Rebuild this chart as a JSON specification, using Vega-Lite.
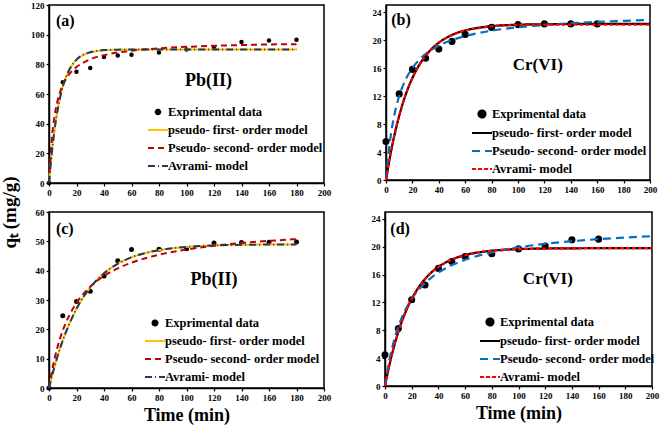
{
"$schema":"https://vega.github.io/schema/vega-lite/v6.json",
"padding":{"left":0,"top":0,"right":0,"bottom":0},
"spacing":9,
"title":{"text":"qₜ (mg/g)","orient":"left","anchor":"middle","font":"Liberation Serif","fontSize":19,"fontWeight":"bold","color":"black","offset":10},
"resolve":{"scale":{"color":"independent","shape":"independent","strokeDash":"independent"},"legend":{"color":"independent","shape":"independent","strokeDash":"independent"}},
"config":{
 "font":"Liberation Serif",
 "view":{"stroke":"black","strokeWidth":1.5},
 "text":{"font":"Liberation Serif"},
 "axis":{"grid":false,"labelOverlap":false,"labelSeparation":0,"labelBound":false,"labelFlush":false,"domainColor":"black","domainWidth":1.5,"tickColor":"black","tickSize":3,"tickWidth":1.2,"labelFont":"Liberation Serif","labelFontWeight":"bold","labelFontSize":9,"labelColor":"black","labelPadding":2,"titleFont":"Liberation Serif","titleFontWeight":"bold","titleFontSize":18,"titleColor":"black"},
 "legend":{"labelFont":"Liberation Serif","labelFontWeight":"bold","labelFontSize":12.5,"labelColor":"black","title":null,"orient":"none","rowPadding":0,"labelOffset":-1,"symbolStrokeWidth":2,"symbolSize":400}
},
"vconcat":[
{"hconcat":[
{"width":275,"height":178,
 "data":{"values":[
 {"t":0,"q":0,"s":"Exprimental data"},{"t":10,"q":68,"s":"Exprimental data"},{"t":20,"q":75,"s":"Exprimental data"},{"t":30,"q":77.5,"s":"Exprimental data"},{"t":40,"q":85,"s":"Exprimental data"},{"t":50,"q":86,"s":"Exprimental data"},{"t":60,"q":86.5,"s":"Exprimental data"},{"t":80,"q":88,"s":"Exprimental data"},{"t":100,"q":90,"s":"Exprimental data"},{"t":120,"q":91,"s":"Exprimental data"},{"t":140,"q":95,"s":"Exprimental data"},{"t":160,"q":96,"s":"Exprimental data"},{"t":180,"q":96.5,"s":"Exprimental data"},
 {"t":0,"q":0,"s":"pseudo- first- order model"},{"t":2,"q":20.3,"s":"pseudo- first- order model"},{"t":4,"q":36.0,"s":"pseudo- first- order model"},{"t":6,"q":48.1,"s":"pseudo- first- order model"},{"t":8,"q":57.5,"s":"pseudo- first- order model"},{"t":10,"q":64.9,"s":"pseudo- first- order model"},{"t":12,"q":70.5,"s":"pseudo- first- order model"},{"t":15,"q":76.7,"s":"pseudo- first- order model"},{"t":20,"q":83.0,"s":"pseudo- first- order model"},{"t":25,"q":86.3,"s":"pseudo- first- order model"},{"t":30,"q":88.0,"s":"pseudo- first- order model"},{"t":35,"q":89.0,"s":"pseudo- first- order model"},{"t":40,"q":89.5,"s":"pseudo- first- order model"},{"t":50,"q":89.85,"s":"pseudo- first- order model"},{"t":60,"q":89.96,"s":"pseudo- first- order model"},{"t":70,"q":90,"s":"pseudo- first- order model"},{"t":80,"q":90,"s":"pseudo- first- order model"},{"t":100,"q":90,"s":"pseudo- first- order model"},{"t":120,"q":90,"s":"pseudo- first- order model"},{"t":140,"q":90,"s":"pseudo- first- order model"},{"t":160,"q":90,"s":"pseudo- first- order model"},{"t":180,"q":90,"s":"pseudo- first- order model"},
 {"t":0,"q":0,"s":"Pseudo- second- order model"},{"t":2,"q":29.3,"s":"Pseudo- second- order model"},{"t":4,"q":44.9,"s":"Pseudo- second- order model"},{"t":6,"q":54.6,"s":"Pseudo- second- order model"},{"t":8,"q":61.2,"s":"Pseudo- second- order model"},{"t":10,"q":66.0,"s":"Pseudo- second- order model"},{"t":12,"q":69.6,"s":"Pseudo- second- order model"},{"t":15,"q":73.7,"s":"Pseudo- second- order model"},{"t":20,"q":78.2,"s":"Pseudo- second- order model"},{"t":25,"q":81.2,"s":"Pseudo- second- order model"},{"t":30,"q":83.4,"s":"Pseudo- second- order model"},{"t":35,"q":85.0,"s":"Pseudo- second- order model"},{"t":40,"q":86.2,"s":"Pseudo- second- order model"},{"t":50,"q":88.0,"s":"Pseudo- second- order model"},{"t":60,"q":89.2,"s":"Pseudo- second- order model"},{"t":70,"q":90.1,"s":"Pseudo- second- order model"},{"t":80,"q":90.8,"s":"Pseudo- second- order model"},{"t":100,"q":91.8,"s":"Pseudo- second- order model"},{"t":120,"q":92.5,"s":"Pseudo- second- order model"},{"t":140,"q":93.0,"s":"Pseudo- second- order model"},{"t":160,"q":93.4,"s":"Pseudo- second- order model"},{"t":180,"q":93.6,"s":"Pseudo- second- order model"},
 {"t":0,"q":0,"s":"Avrami- model"},{"t":2,"q":19.8,"s":"Avrami- model"},{"t":4,"q":35.6,"s":"Avrami- model"},{"t":6,"q":47.8,"s":"Avrami- model"},{"t":8,"q":57.3,"s":"Avrami- model"},{"t":10,"q":64.8,"s":"Avrami- model"},{"t":12,"q":70.5,"s":"Avrami- model"},{"t":15,"q":76.8,"s":"Avrami- model"},{"t":20,"q":83.2,"s":"Avrami- model"},{"t":25,"q":86.5,"s":"Avrami- model"},{"t":30,"q":88.2,"s":"Avrami- model"},{"t":35,"q":89.1,"s":"Avrami- model"},{"t":40,"q":89.6,"s":"Avrami- model"},{"t":50,"q":89.9,"s":"Avrami- model"},{"t":60,"q":90,"s":"Avrami- model"},{"t":70,"q":90,"s":"Avrami- model"},{"t":80,"q":90,"s":"Avrami- model"},{"t":100,"q":90,"s":"Avrami- model"},{"t":120,"q":90,"s":"Avrami- model"},{"t":140,"q":90,"s":"Avrami- model"},{"t":160,"q":90,"s":"Avrami- model"},{"t":180,"q":90,"s":"Avrami- model"}
 ]},
 "layer":[
  {"transform":[{"filter":"datum.s === 'Exprimental data'"}],
   "mark":{"type":"point","filled":true,"size":20,"opacity":1},
   "encoding":{
    "x":{"field":"t","type":"quantitative","scale":{"domain":[0,200],"nice":false},"axis":{"values":[0,20,40,60,80,100,120,140,160,180,200],"labelOverlap":false,"title":null}},
    "y":{"field":"q","type":"quantitative","scale":{"domain":[0,120],"nice":false},"axis":{"values":[0,20,40,60,80,100,120],"labelOverlap":false,"title":null}},
    "color":{"field":"s","type":"nominal","scale":{"domain":["Exprimental data","pseudo- first- order model","Pseudo- second- order model","Avrami- model"],"range":["black","#FFC000","#C00000","#1F3864"]},
      "legend":{"legendX":98,"legendY":96,"labelFont":"Liberation Serif","encode":{"symbols":{"update":{"size":{"signal":"datum.value === 'Exprimental data' ? 20 : 400"},"fill":{"signal":"datum.value === 'Exprimental data' ? 'black' : 'transparent'"}}}}}},
    "shape":{"field":"s","type":"nominal","scale":{"domain":["Exprimental data","pseudo- first- order model","Pseudo- second- order model","Avrami- model"],"range":["circle","stroke","stroke","stroke"]},
      "legend":{"legendX":98,"legendY":96,"labelFont":"Liberation Serif","encode":{"symbols":{"update":{"size":{"signal":"datum.value === 'Exprimental data' ? 20 : 400"},"fill":{"signal":"datum.value === 'Exprimental data' ? 'black' : 'transparent'"}}}}}}
   }},
  {"transform":[{"filter":"datum.s !== 'Exprimental data'"}],
   "mark":{"type":"line","strokeWidth":2,"interpolate":"monotone"},
   "encoding":{
    "x":{"field":"t","type":"quantitative","axis":{"values":[0,20,40,60,80,100,120,140,160,180,200],"labelOverlap":false,"title":null}},
    "y":{"field":"q","type":"quantitative","axis":{"values":[0,20,40,60,80,100,120],"labelOverlap":false,"title":null}},
    "color":{"field":"s","type":"nominal"},
    "strokeDash":{"field":"s","type":"nominal","scale":{"domain":["Exprimental data","pseudo- first- order model","Pseudo- second- order model","Avrami- model"],"range":[[1,0],[1,0],[6,4],[7,3,1,3]]},
      "legend":{"legendX":98,"legendY":96,"labelFont":"Liberation Serif","encode":{"symbols":{"update":{"size":{"signal":"datum.value === 'Exprimental data' ? 20 : 400"},"fill":{"signal":"datum.value === 'Exprimental data' ? 'black' : 'transparent'"}}}}}}
   }},
  {"data":{"values":[{}]},"mark":{"type":"text","font":"Liberation Serif","fontSize":16,"fontWeight":"bold","align":"left","baseline":"middle"},
   "encoding":{"x":{"datum":5,"axis":{"values":[0,20,40,60,80,100,120,140,160,180,200],"labelOverlap":false,"title":null}},"y":{"datum":109,"axis":{"values":[0,20,40,60,80,100,120],"labelOverlap":false,"title":null}},"text":{"value":"(a)"}}},
  {"data":{"values":[{}]},"mark":{"type":"text","font":"Liberation Serif","fontSize":18,"fontWeight":"bold","align":"center","baseline":"middle"},
   "encoding":{"x":{"datum":116,"axis":{"values":[0,20,40,60,80,100,120,140,160,180,200],"labelOverlap":false,"title":null}},"y":{"datum":69,"axis":{"values":[0,20,40,60,80,100,120],"labelOverlap":false,"title":null}},"text":{"value":"Pb(II)"}}}
 ]},
{"width":264,"height":175,
 "data":{"values":[
 {"t":0,"q":5.5,"s":"Exprimental data"},{"t":10,"q":12.3,"s":"Exprimental data"},{"t":20,"q":15.8,"s":"Exprimental data"},{"t":30,"q":17.4,"s":"Exprimental data"},{"t":40,"q":18.7,"s":"Exprimental data"},{"t":50,"q":19.8,"s":"Exprimental data"},{"t":60,"q":20.8,"s":"Exprimental data"},{"t":80,"q":21.8,"s":"Exprimental data"},{"t":100,"q":22.2,"s":"Exprimental data"},{"t":120,"q":22.3,"s":"Exprimental data"},{"t":140,"q":22.3,"s":"Exprimental data"},{"t":160,"q":22.3,"s":"Exprimental data"},
 {"t":0,"q":0,"s":"pseudo- first- order model"},{"t":2,"q":2.24,"s":"pseudo- first- order model"},{"t":4,"q":4.26,"s":"pseudo- first- order model"},{"t":6,"q":6.07,"s":"pseudo- first- order model"},{"t":8,"q":7.71,"s":"pseudo- first- order model"},{"t":10,"q":9.17,"s":"pseudo- first- order model"},{"t":12,"q":10.49,"s":"pseudo- first- order model"},{"t":15,"q":12.23,"s":"pseudo- first- order model"},{"t":20,"q":14.57,"s":"pseudo- first- order model"},{"t":25,"q":16.37,"s":"pseudo- first- order model"},{"t":30,"q":17.75,"s":"pseudo- first- order model"},{"t":35,"q":18.81,"s":"pseudo- first- order model"},{"t":40,"q":19.62,"s":"pseudo- first- order model"},{"t":50,"q":20.72,"s":"pseudo- first- order model"},{"t":60,"q":21.37,"s":"pseudo- first- order model"},{"t":70,"q":21.75,"s":"pseudo- first- order model"},{"t":80,"q":21.98,"s":"pseudo- first- order model"},{"t":100,"q":22.19,"s":"pseudo- first- order model"},{"t":120,"q":22.26,"s":"pseudo- first- order model"},{"t":140,"q":22.29,"s":"pseudo- first- order model"},{"t":160,"q":22.3,"s":"pseudo- first- order model"},{"t":180,"q":22.3,"s":"pseudo- first- order model"},{"t":200,"q":22.3,"s":"pseudo- first- order model"},
 {"t":0,"q":0,"s":"Pseudo- second- order model"},{"t":2,"q":4.0,"s":"Pseudo- second- order model"},{"t":4,"q":6.86,"s":"Pseudo- second- order model"},{"t":6,"q":9.0,"s":"Pseudo- second- order model"},{"t":8,"q":10.67,"s":"Pseudo- second- order model"},{"t":10,"q":12.0,"s":"Pseudo- second- order model"},{"t":12,"q":13.09,"s":"Pseudo- second- order model"},{"t":15,"q":14.4,"s":"Pseudo- second- order model"},{"t":20,"q":16.0,"s":"Pseudo- second- order model"},{"t":25,"q":17.14,"s":"Pseudo- second- order model"},{"t":30,"q":18.0,"s":"Pseudo- second- order model"},{"t":35,"q":18.67,"s":"Pseudo- second- order model"},{"t":40,"q":19.2,"s":"Pseudo- second- order model"},{"t":50,"q":20.0,"s":"Pseudo- second- order model"},{"t":60,"q":20.57,"s":"Pseudo- second- order model"},{"t":70,"q":21.0,"s":"Pseudo- second- order model"},{"t":80,"q":21.33,"s":"Pseudo- second- order model"},{"t":100,"q":21.82,"s":"Pseudo- second- order model"},{"t":120,"q":22.15,"s":"Pseudo- second- order model"},{"t":140,"q":22.4,"s":"Pseudo- second- order model"},{"t":160,"q":22.59,"s":"Pseudo- second- order model"},{"t":180,"q":22.74,"s":"Pseudo- second- order model"},{"t":200,"q":22.86,"s":"Pseudo- second- order model"},
 {"t":0,"q":0,"s":"Avrami- model"},{"t":2,"q":2.3,"s":"Avrami- model"},{"t":4,"q":4.3,"s":"Avrami- model"},{"t":6,"q":6.1,"s":"Avrami- model"},{"t":8,"q":7.75,"s":"Avrami- model"},{"t":10,"q":9.2,"s":"Avrami- model"},{"t":12,"q":10.5,"s":"Avrami- model"},{"t":15,"q":12.25,"s":"Avrami- model"},{"t":20,"q":14.6,"s":"Avrami- model"},{"t":25,"q":16.4,"s":"Avrami- model"},{"t":30,"q":17.75,"s":"Avrami- model"},{"t":35,"q":18.8,"s":"Avrami- model"},{"t":40,"q":19.6,"s":"Avrami- model"},{"t":50,"q":20.7,"s":"Avrami- model"},{"t":60,"q":21.35,"s":"Avrami- model"},{"t":70,"q":21.7,"s":"Avrami- model"},{"t":80,"q":21.95,"s":"Avrami- model"},{"t":100,"q":22.15,"s":"Avrami- model"},{"t":120,"q":22.2,"s":"Avrami- model"},{"t":140,"q":22.2,"s":"Avrami- model"},{"t":160,"q":22.2,"s":"Avrami- model"},{"t":180,"q":22.2,"s":"Avrami- model"},{"t":200,"q":22.2,"s":"Avrami- model"}
 ]},
 "layer":[
  {"transform":[{"filter":"datum.s === 'Exprimental data'"}],
   "mark":{"type":"point","filled":true,"size":50,"opacity":1},
   "encoding":{
    "x":{"field":"t","type":"quantitative","scale":{"domain":[0,200],"nice":false},"axis":{"values":[0,20,40,60,80,100,120,140,160,180,200],"labelOverlap":false,"title":null}},
    "y":{"field":"q","type":"quantitative","scale":{"domain":[0,25],"nice":false},"axis":{"values":[0,4,8,12,16,20,24],"labelOverlap":false,"title":null}},
    "color":{"field":"s","type":"nominal","scale":{"domain":["Exprimental data","pseudo- first- order model","Pseudo- second- order model","Avrami- model"],"range":["black","black","#0070C0","#FF0000"]},
      "legend":{"legendX":85,"legendY":98,"labelFont":"Liberation Serif","encode":{"symbols":{"update":{"size":{"signal":"datum.value === 'Exprimental data' ? 50 : 400"},"fill":{"signal":"datum.value === 'Exprimental data' ? 'black' : 'transparent'"}}}}}},
    "shape":{"field":"s","type":"nominal","scale":{"domain":["Exprimental data","pseudo- first- order model","Pseudo- second- order model","Avrami- model"],"range":["circle","stroke","stroke","stroke"]},
      "legend":{"legendX":85,"legendY":98,"labelFont":"Liberation Serif","encode":{"symbols":{"update":{"size":{"signal":"datum.value === 'Exprimental data' ? 50 : 400"},"fill":{"signal":"datum.value === 'Exprimental data' ? 'black' : 'transparent'"}}}}}}
   }},
  {"transform":[{"filter":"datum.s !== 'Exprimental data'"}],
   "mark":{"type":"line","strokeWidth":2.2,"interpolate":"monotone"},
   "encoding":{
    "x":{"field":"t","type":"quantitative","axis":{"values":[0,20,40,60,80,100,120,140,160,180,200],"labelOverlap":false,"title":null}},
    "y":{"field":"q","type":"quantitative","axis":{"values":[0,4,8,12,16,20,24],"labelOverlap":false,"title":null}},
    "color":{"field":"s","type":"nominal"},
    "strokeDash":{"field":"s","type":"nominal","scale":{"domain":["Exprimental data","pseudo- first- order model","Pseudo- second- order model","Avrami- model"],"range":[[1,0],[1,0],[8,5],[4,2]]},
      "legend":{"legendX":85,"legendY":98,"labelFont":"Liberation Serif","encode":{"symbols":{"update":{"size":{"signal":"datum.value === 'Exprimental data' ? 50 : 400"},"fill":{"signal":"datum.value === 'Exprimental data' ? 'black' : 'transparent'"}}}}}}
   }},
  {"data":{"values":[{}]},"mark":{"type":"text","font":"Liberation Serif","fontSize":16,"fontWeight":"bold","align":"left","baseline":"middle"},
   "encoding":{"x":{"datum":4,"axis":{"values":[0,20,40,60,80,100,120,140,160,180,200],"labelOverlap":false,"title":null}},"y":{"datum":22.9,"axis":{"values":[0,4,8,12,16,20,24],"labelOverlap":false,"title":null}},"text":{"value":"(b)"}}},
  {"data":{"values":[{}]},"mark":{"type":"text","font":"Liberation Serif","fontSize":17,"fontWeight":"bold","align":"center","baseline":"middle"},
   "encoding":{"x":{"datum":115,"axis":{"values":[0,20,40,60,80,100,120,140,160,180,200],"labelOverlap":false,"title":null}},"y":{"datum":16.4,"axis":{"values":[0,4,8,12,16,20,24],"labelOverlap":false,"title":null}},"text":{"value":"Cr(VI)"}}}
 ]}
],"spacing":62,"bounds":"flush",
"resolve":{"scale":{"color":"independent","shape":"independent","strokeDash":"independent"},"legend":{"color":"independent","shape":"independent","strokeDash":"independent"}}},
{"hconcat":[
{"width":275,"height":176,
 "data":{"values":[
 {"t":0,"q":0,"s":"Exprimental data"},{"t":10,"q":24.6,"s":"Exprimental data"},{"t":20,"q":29.5,"s":"Exprimental data"},{"t":30,"q":33,"s":"Exprimental data"},{"t":40,"q":38.2,"s":"Exprimental data"},{"t":50,"q":43.4,"s":"Exprimental data"},{"t":60,"q":47.2,"s":"Exprimental data"},{"t":80,"q":47.3,"s":"Exprimental data"},{"t":100,"q":47.5,"s":"Exprimental data"},{"t":120,"q":49.4,"s":"Exprimental data"},{"t":140,"q":49.6,"s":"Exprimental data"},{"t":160,"q":49.7,"s":"Exprimental data"},{"t":180,"q":49.8,"s":"Exprimental data"},
 {"t":0,"q":0,"s":"pseudo- first- order model"},{"t":2,"q":3.77,"s":"pseudo- first- order model"},{"t":4,"q":7.25,"s":"pseudo- first- order model"},{"t":6,"q":10.46,"s":"pseudo- first- order model"},{"t":8,"q":13.42,"s":"pseudo- first- order model"},{"t":10,"q":16.15,"s":"pseudo- first- order model"},{"t":12,"q":18.68,"s":"pseudo- first- order model"},{"t":15,"q":22.11,"s":"pseudo- first- order model"},{"t":20,"q":26.98,"s":"pseudo- first- order model"},{"t":25,"q":30.97,"s":"pseudo- first- order model"},{"t":30,"q":34.24,"s":"pseudo- first- order model"},{"t":35,"q":36.92,"s":"pseudo- first- order model"},{"t":40,"q":39.11,"s":"pseudo- first- order model"},{"t":50,"q":42.37,"s":"pseudo- first- order model"},{"t":60,"q":44.56,"s":"pseudo- first- order model"},{"t":70,"q":46.02,"s":"pseudo- first- order model"},{"t":80,"q":47.0,"s":"pseudo- first- order model"},{"t":100,"q":48.1,"s":"pseudo- first- order model"},{"t":120,"q":48.6,"s":"pseudo- first- order model"},{"t":140,"q":48.82,"s":"pseudo- first- order model"},{"t":160,"q":48.92,"s":"pseudo- first- order model"},{"t":180,"q":48.96,"s":"pseudo- first- order model"},
 {"t":0,"q":0,"s":"Pseudo- second- order model"},{"t":2,"q":5.43,"s":"Pseudo- second- order model"},{"t":4,"q":9.9,"s":"Pseudo- second- order model"},{"t":6,"q":13.65,"s":"Pseudo- second- order model"},{"t":8,"q":16.83,"s":"Pseudo- second- order model"},{"t":10,"q":19.57,"s":"Pseudo- second- order model"},{"t":12,"q":21.95,"s":"Pseudo- second- order model"},{"t":15,"q":24.98,"s":"Pseudo- second- order model"},{"t":20,"q":29.0,"s":"Pseudo- second- order model"},{"t":25,"q":32.09,"s":"Pseudo- second- order model"},{"t":30,"q":34.55,"s":"Pseudo- second- order model"},{"t":35,"q":36.55,"s":"Pseudo- second- order model"},{"t":40,"q":38.21,"s":"Pseudo- second- order model"},{"t":50,"q":40.8,"s":"Pseudo- second- order model"},{"t":60,"q":42.74,"s":"Pseudo- second- order model"},{"t":70,"q":44.23,"s":"Pseudo- second- order model"},{"t":80,"q":45.43,"s":"Pseudo- second- order model"},{"t":100,"q":47.21,"s":"Pseudo- second- order model"},{"t":120,"q":48.48,"s":"Pseudo- second- order model"},{"t":140,"q":49.43,"s":"Pseudo- second- order model"},{"t":160,"q":50.16,"s":"Pseudo- second- order model"},{"t":180,"q":50.75,"s":"Pseudo- second- order model"},
 {"t":0,"q":0,"s":"Avrami- model"},{"t":2,"q":3.8,"s":"Avrami- model"},{"t":4,"q":7.3,"s":"Avrami- model"},{"t":6,"q":10.5,"s":"Avrami- model"},{"t":8,"q":13.45,"s":"Avrami- model"},{"t":10,"q":16.2,"s":"Avrami- model"},{"t":12,"q":18.7,"s":"Avrami- model"},{"t":15,"q":22.1,"s":"Avrami- model"},{"t":20,"q":27.0,"s":"Avrami- model"},{"t":25,"q":31.0,"s":"Avrami- model"},{"t":30,"q":34.25,"s":"Avrami- model"},{"t":35,"q":36.9,"s":"Avrami- model"},{"t":40,"q":39.1,"s":"Avrami- model"},{"t":50,"q":42.35,"s":"Avrami- model"},{"t":60,"q":44.55,"s":"Avrami- model"},{"t":70,"q":46.0,"s":"Avrami- model"},{"t":80,"q":47.0,"s":"Avrami- model"},{"t":100,"q":48.1,"s":"Avrami- model"},{"t":120,"q":48.6,"s":"Avrami- model"},{"t":140,"q":48.8,"s":"Avrami- model"},{"t":160,"q":48.9,"s":"Avrami- model"},{"t":180,"q":48.95,"s":"Avrami- model"}
 ]},
 "layer":[
  {"transform":[{"filter":"datum.s === 'Exprimental data'"}],
   "mark":{"type":"point","filled":true,"size":25,"opacity":1},
   "encoding":{
    "x":{"field":"t","type":"quantitative","scale":{"domain":[0,200],"nice":false},"axis":{"values":[0,20,40,60,80,100,120,140,160,180,200],"labelOverlap":false,"title":"Time (min)","titlePadding":4}},
    "y":{"field":"q","type":"quantitative","scale":{"domain":[0,60],"nice":false},"axis":{"values":[0,10,20,30,40,50,60],"labelOverlap":false,"title":null}},
    "color":{"field":"s","type":"nominal","scale":{"domain":["Exprimental data","pseudo- first- order model","Pseudo- second- order model","Avrami- model"],"range":["black","#FFC000","#C00000","#1F3864"]},
      "legend":{"legendX":95,"legendY":100,"labelFont":"Liberation Serif","encode":{"symbols":{"update":{"size":{"signal":"datum.value === 'Exprimental data' ? 25 : 400"},"fill":{"signal":"datum.value === 'Exprimental data' ? 'black' : 'transparent'"}}}}}},
    "shape":{"field":"s","type":"nominal","scale":{"domain":["Exprimental data","pseudo- first- order model","Pseudo- second- order model","Avrami- model"],"range":["circle","stroke","stroke","stroke"]},
      "legend":{"legendX":95,"legendY":100,"labelFont":"Liberation Serif","encode":{"symbols":{"update":{"size":{"signal":"datum.value === 'Exprimental data' ? 25 : 400"},"fill":{"signal":"datum.value === 'Exprimental data' ? 'black' : 'transparent'"}}}}}}
   }},
  {"transform":[{"filter":"datum.s !== 'Exprimental data'"}],
   "mark":{"type":"line","strokeWidth":2,"interpolate":"monotone"},
   "encoding":{
    "x":{"field":"t","type":"quantitative","axis":{"values":[0,20,40,60,80,100,120,140,160,180,200],"labelOverlap":false,"title":"Time (min)","titlePadding":4}},
    "y":{"field":"q","type":"quantitative","axis":{"values":[0,10,20,30,40,50,60],"labelOverlap":false,"title":null}},
    "color":{"field":"s","type":"nominal"},
    "strokeDash":{"field":"s","type":"nominal","scale":{"domain":["Exprimental data","pseudo- first- order model","Pseudo- second- order model","Avrami- model"],"range":[[1,0],[1,0],[6,4],[7,3,1,3]]},
      "legend":{"legendX":95,"legendY":100,"labelFont":"Liberation Serif","encode":{"symbols":{"update":{"size":{"signal":"datum.value === 'Exprimental data' ? 25 : 400"},"fill":{"signal":"datum.value === 'Exprimental data' ? 'black' : 'transparent'"}}}}}}
   }},
  {"data":{"values":[{}]},"mark":{"type":"text","font":"Liberation Serif","fontSize":16,"fontWeight":"bold","align":"left","baseline":"middle"},
   "encoding":{"x":{"datum":5,"axis":{"values":[0,20,40,60,80,100,120,140,160,180,200],"labelOverlap":false,"title":"Time (min)","titlePadding":4}},"y":{"datum":54.2,"axis":{"values":[0,10,20,30,40,50,60],"labelOverlap":false,"title":null}},"text":{"value":"(c)"}}},
  {"data":{"values":[{}]},"mark":{"type":"text","font":"Liberation Serif","fontSize":18,"fontWeight":"bold","align":"center","baseline":"middle"},
   "encoding":{"x":{"datum":120,"axis":{"values":[0,20,40,60,80,100,120,140,160,180,200],"labelOverlap":false,"title":"Time (min)","titlePadding":4}},"y":{"datum":36.8,"axis":{"values":[0,10,20,30,40,50,60],"labelOverlap":false,"title":null}},"text":{"value":"Pb(II)"}}}
 ]},
{"width":267,"height":174,
 "data":{"values":[
 {"t":0,"q":4.5,"s":"Exprimental data"},{"t":10,"q":8.25,"s":"Exprimental data"},{"t":20,"q":12.4,"s":"Exprimental data"},{"t":30,"q":14.5,"s":"Exprimental data"},{"t":40,"q":16.9,"s":"Exprimental data"},{"t":50,"q":17.9,"s":"Exprimental data"},{"t":60,"q":18.6,"s":"Exprimental data"},{"t":80,"q":19.0,"s":"Exprimental data"},{"t":100,"q":19.7,"s":"Exprimental data"},{"t":120,"q":20.1,"s":"Exprimental data"},{"t":140,"q":21.0,"s":"Exprimental data"},{"t":160,"q":21.1,"s":"Exprimental data"},
 {"t":0,"q":0,"s":"pseudo- first- order model"},{"t":2,"q":1.88,"s":"pseudo- first- order model"},{"t":4,"q":3.59,"s":"pseudo- first- order model"},{"t":6,"q":5.13,"s":"pseudo- first- order model"},{"t":8,"q":6.53,"s":"pseudo- first- order model"},{"t":10,"q":7.79,"s":"pseudo- first- order model"},{"t":12,"q":8.93,"s":"pseudo- first- order model"},{"t":15,"q":10.45,"s":"pseudo- first- order model"},{"t":20,"q":12.52,"s":"pseudo- first- order model"},{"t":25,"q":14.13,"s":"pseudo- first- order model"},{"t":30,"q":15.38,"s":"pseudo- first- order model"},{"t":35,"q":16.36,"s":"pseudo- first- order model"},{"t":40,"q":17.12,"s":"pseudo- first- order model"},{"t":50,"q":18.17,"s":"pseudo- first- order model"},{"t":60,"q":18.81,"s":"pseudo- first- order model"},{"t":70,"q":19.2,"s":"pseudo- first- order model"},{"t":80,"q":19.44,"s":"pseudo- first- order model"},{"t":100,"q":19.67,"s":"pseudo- first- order model"},{"t":120,"q":19.75,"s":"pseudo- first- order model"},{"t":140,"q":19.78,"s":"pseudo- first- order model"},{"t":160,"q":19.8,"s":"pseudo- first- order model"},{"t":180,"q":19.8,"s":"pseudo- first- order model"},{"t":200,"q":19.8,"s":"pseudo- first- order model"},
 {"t":0,"q":0,"s":"Pseudo- second- order model"},{"t":2,"q":2.41,"s":"Pseudo- second- order model"},{"t":4,"q":4.37,"s":"Pseudo- second- order model"},{"t":6,"q":5.99,"s":"Pseudo- second- order model"},{"t":8,"q":7.36,"s":"Pseudo- second- order model"},{"t":10,"q":8.53,"s":"Pseudo- second- order model"},{"t":12,"q":9.54,"s":"Pseudo- second- order model"},{"t":15,"q":10.82,"s":"Pseudo- second- order model"},{"t":20,"q":12.51,"s":"Pseudo- second- order model"},{"t":25,"q":13.79,"s":"Pseudo- second- order model"},{"t":30,"q":14.8,"s":"Pseudo- second- order model"},{"t":35,"q":15.62,"s":"Pseudo- second- order model"},{"t":40,"q":16.3,"s":"Pseudo- second- order model"},{"t":50,"q":17.35,"s":"Pseudo- second- order model"},{"t":60,"q":18.13,"s":"Pseudo- second- order model"},{"t":70,"q":18.74,"s":"Pseudo- second- order model"},{"t":80,"q":19.22,"s":"Pseudo- second- order model"},{"t":100,"q":19.93,"s":"Pseudo- second- order model"},{"t":120,"q":20.43,"s":"Pseudo- second- order model"},{"t":140,"q":20.81,"s":"Pseudo- second- order model"},{"t":160,"q":21.1,"s":"Pseudo- second- order model"},{"t":180,"q":21.33,"s":"Pseudo- second- order model"},{"t":200,"q":21.53,"s":"Pseudo- second- order model"},
 {"t":0,"q":0,"s":"Avrami- model"},{"t":2,"q":1.9,"s":"Avrami- model"},{"t":4,"q":3.6,"s":"Avrami- model"},{"t":6,"q":5.15,"s":"Avrami- model"},{"t":8,"q":6.55,"s":"Avrami- model"},{"t":10,"q":7.8,"s":"Avrami- model"},{"t":12,"q":8.95,"s":"Avrami- model"},{"t":15,"q":10.45,"s":"Avrami- model"},{"t":20,"q":12.5,"s":"Avrami- model"},{"t":25,"q":14.1,"s":"Avrami- model"},{"t":30,"q":15.35,"s":"Avrami- model"},{"t":35,"q":16.35,"s":"Avrami- model"},{"t":40,"q":17.1,"s":"Avrami- model"},{"t":50,"q":18.15,"s":"Avrami- model"},{"t":60,"q":18.8,"s":"Avrami- model"},{"t":70,"q":19.2,"s":"Avrami- model"},{"t":80,"q":19.43,"s":"Avrami- model"},{"t":100,"q":19.66,"s":"Avrami- model"},{"t":120,"q":19.75,"s":"Avrami- model"},{"t":140,"q":19.78,"s":"Avrami- model"},{"t":160,"q":19.8,"s":"Avrami- model"},{"t":180,"q":19.8,"s":"Avrami- model"},{"t":200,"q":19.8,"s":"Avrami- model"}
 ]},
 "layer":[
  {"transform":[{"filter":"datum.s === 'Exprimental data'"}],
   "mark":{"type":"point","filled":true,"size":50,"opacity":1},
   "encoding":{
    "x":{"field":"t","type":"quantitative","scale":{"domain":[0,200],"nice":false},"axis":{"values":[0,20,40,60,80,100,120,140,160,180,200],"labelOverlap":false,"title":"Time (min)","titlePadding":4}},
    "y":{"field":"q","type":"quantitative","scale":{"domain":[0,25],"nice":false},"axis":{"values":[0,4,8,12,16,20,24],"labelOverlap":false,"title":null}},
    "color":{"field":"s","type":"nominal","scale":{"domain":["Exprimental data","pseudo- first- order model","Pseudo- second- order model","Avrami- model"],"range":["black","black","#0070C0","#FF0000"]},
      "legend":{"legendX":94,"legendY":99,"labelFont":"Liberation Serif","encode":{"symbols":{"update":{"size":{"signal":"datum.value === 'Exprimental data' ? 50 : 400"},"fill":{"signal":"datum.value === 'Exprimental data' ? 'black' : 'transparent'"}}}}}},
    "shape":{"field":"s","type":"nominal","scale":{"domain":["Exprimental data","pseudo- first- order model","Pseudo- second- order model","Avrami- model"],"range":["circle","stroke","stroke","stroke"]},
      "legend":{"legendX":94,"legendY":99,"labelFont":"Liberation Serif","encode":{"symbols":{"update":{"size":{"signal":"datum.value === 'Exprimental data' ? 50 : 400"},"fill":{"signal":"datum.value === 'Exprimental data' ? 'black' : 'transparent'"}}}}}}
   }},
  {"transform":[{"filter":"datum.s !== 'Exprimental data'"}],
   "mark":{"type":"line","strokeWidth":2.2,"interpolate":"monotone"},
   "encoding":{
    "x":{"field":"t","type":"quantitative","axis":{"values":[0,20,40,60,80,100,120,140,160,180,200],"labelOverlap":false,"title":"Time (min)","titlePadding":4}},
    "y":{"field":"q","type":"quantitative","axis":{"values":[0,4,8,12,16,20,24],"labelOverlap":false,"title":null}},
    "color":{"field":"s","type":"nominal"},
    "strokeDash":{"field":"s","type":"nominal","scale":{"domain":["Exprimental data","pseudo- first- order model","Pseudo- second- order model","Avrami- model"],"range":[[1,0],[1,0],[8,5],[4,2]]},
      "legend":{"legendX":94,"legendY":99,"labelFont":"Liberation Serif","encode":{"symbols":{"update":{"size":{"signal":"datum.value === 'Exprimental data' ? 50 : 400"},"fill":{"signal":"datum.value === 'Exprimental data' ? 'black' : 'transparent'"}}}}}}
   }},
  {"data":{"values":[{}]},"mark":{"type":"text","font":"Liberation Serif","fontSize":16,"fontWeight":"bold","align":"left","baseline":"middle"},
   "encoding":{"x":{"datum":4,"axis":{"values":[0,20,40,60,80,100,120,140,160,180,200],"labelOverlap":false,"title":"Time (min)","titlePadding":4}},"y":{"datum":22.6,"axis":{"values":[0,4,8,12,16,20,24],"labelOverlap":false,"title":null}},"text":{"value":"(d)"}}},
  {"data":{"values":[{}]},"mark":{"type":"text","font":"Liberation Serif","fontSize":17,"fontWeight":"bold","align":"center","baseline":"middle"},
   "encoding":{"x":{"datum":122,"axis":{"values":[0,20,40,60,80,100,120,140,160,180,200],"labelOverlap":false,"title":"Time (min)","titlePadding":4}},"y":{"datum":15.4,"axis":{"values":[0,4,8,12,16,20,24],"labelOverlap":false,"title":null}},"text":{"value":"Cr(VI)"}}}
 ]}
],"spacing":61,"bounds":"flush",
"resolve":{"scale":{"color":"independent","shape":"independent","strokeDash":"independent"},"legend":{"color":"independent","shape":"independent","strokeDash":"independent"}}}
]
}
